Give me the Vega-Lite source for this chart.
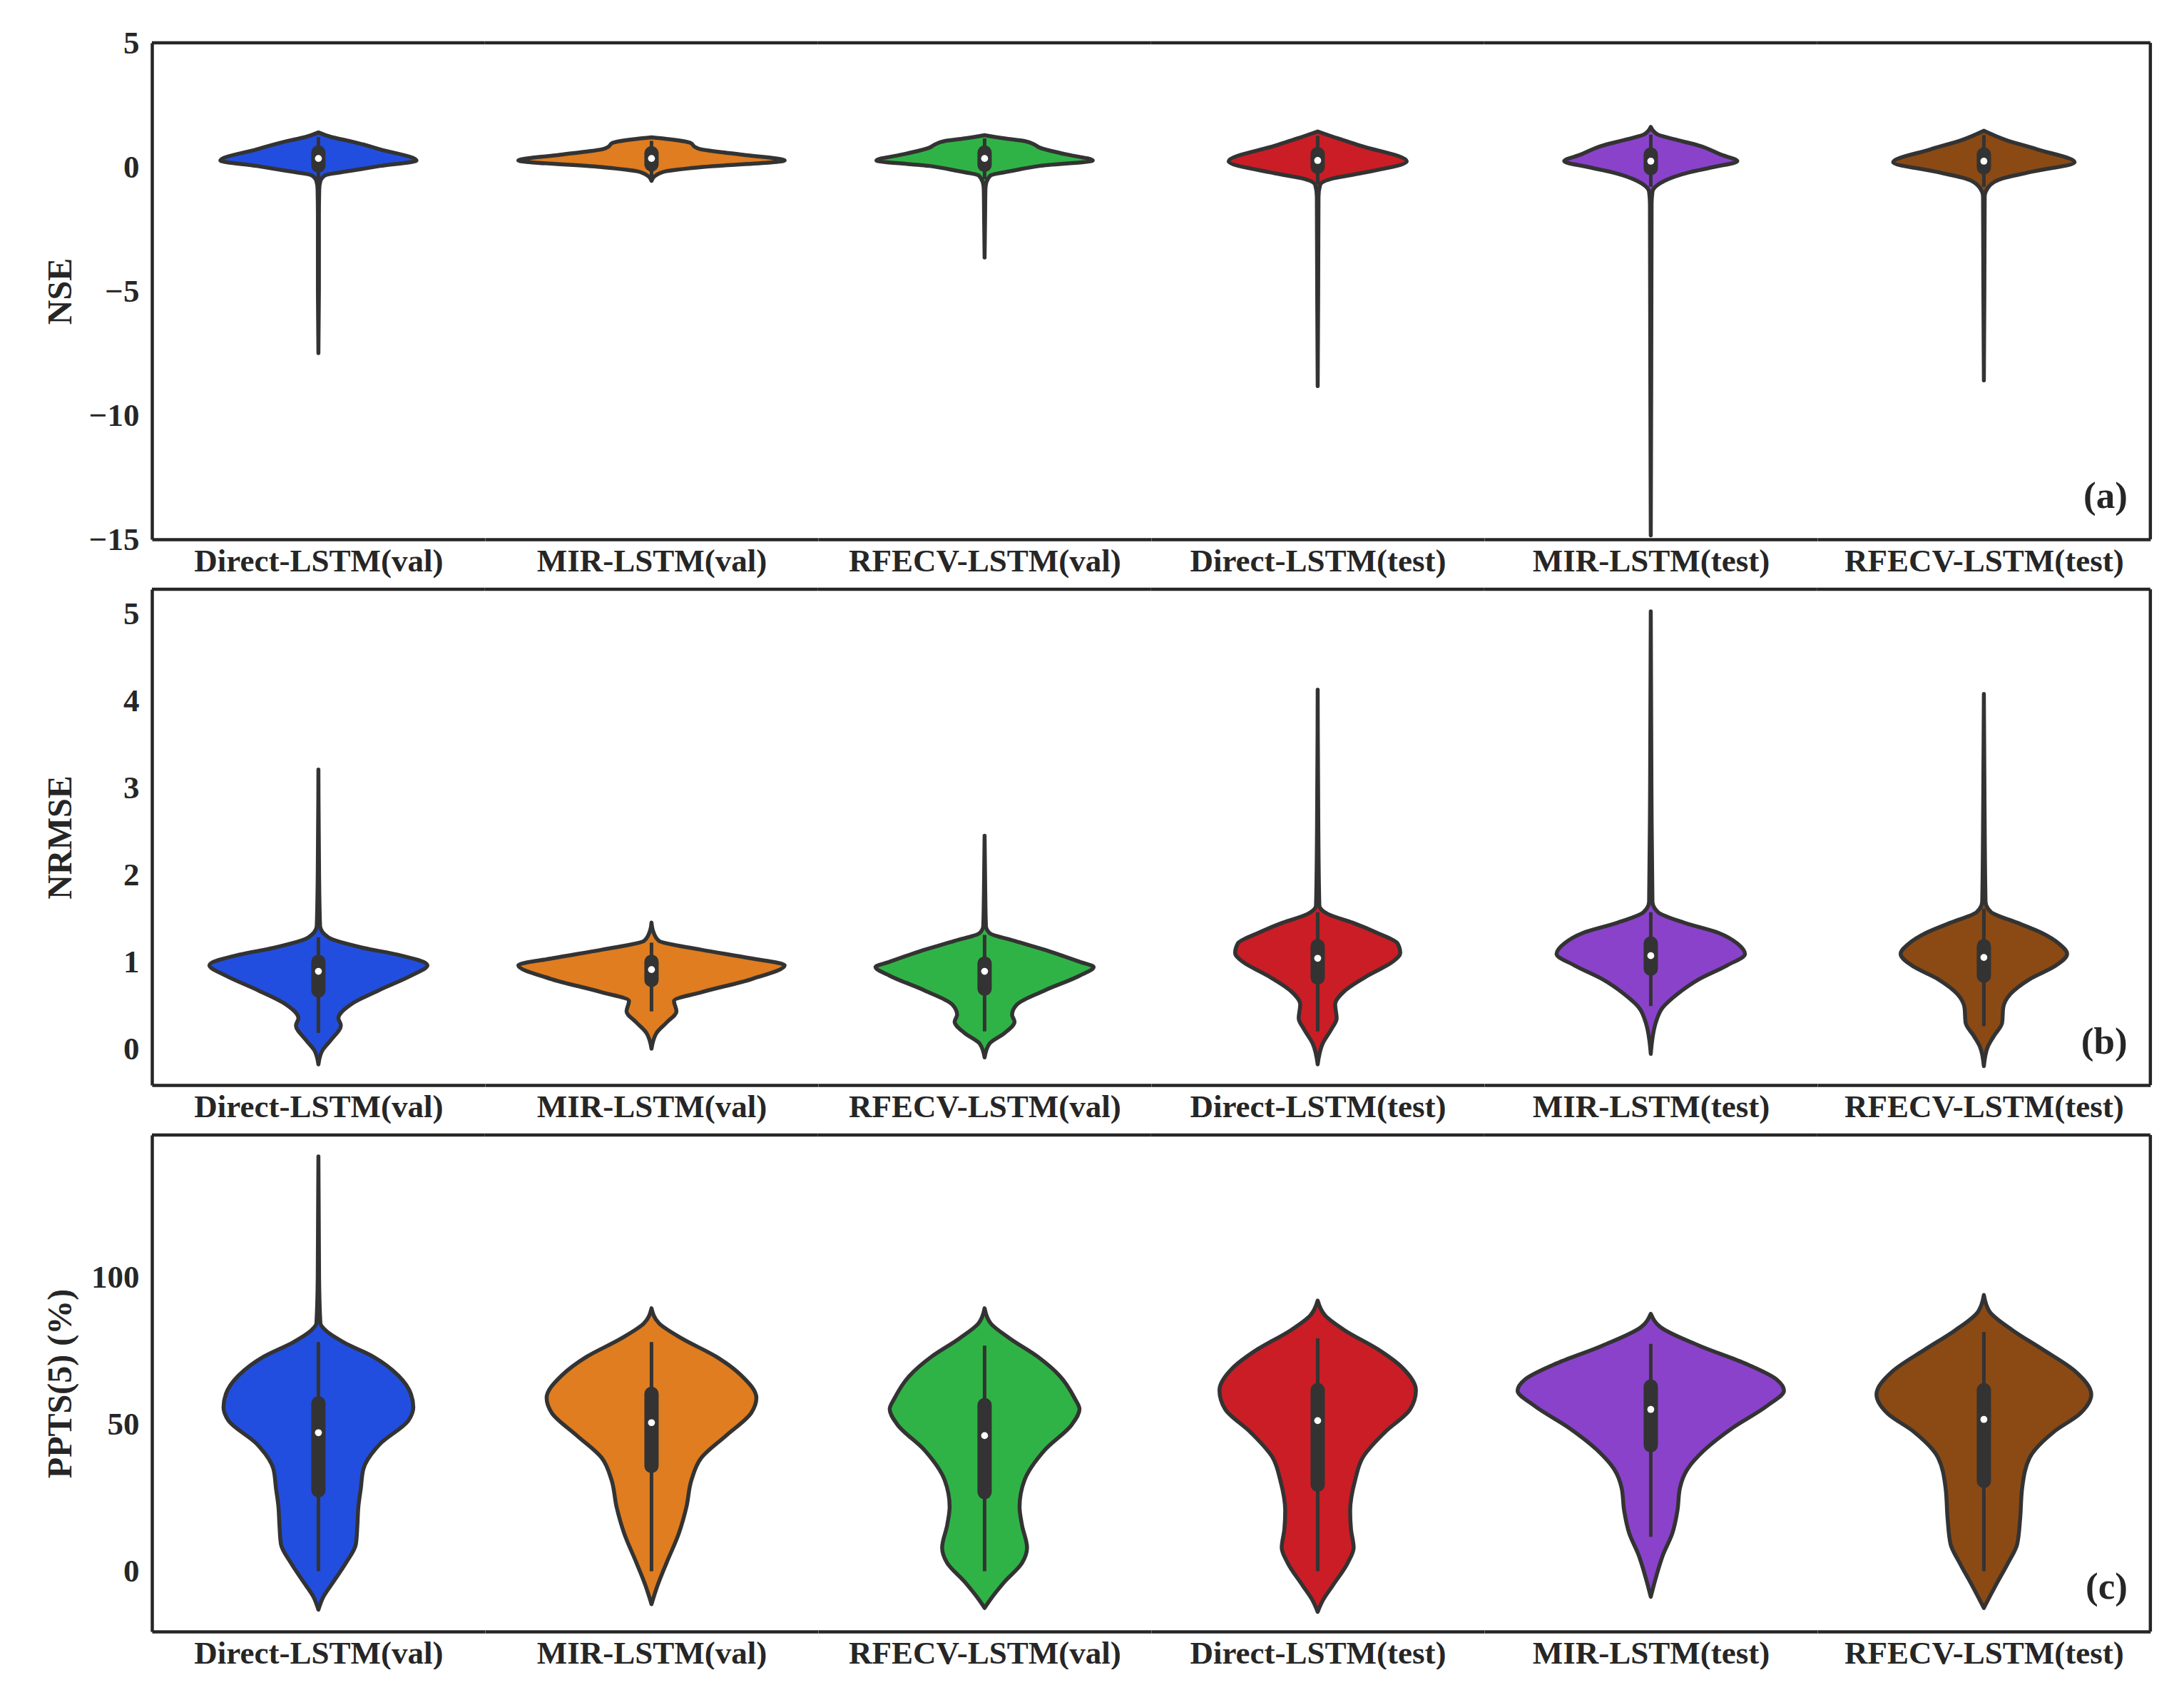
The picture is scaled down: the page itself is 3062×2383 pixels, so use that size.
{
  "$schema": "https://vega.github.io/schema/vega-lite/v6.json",
  "padding": {"left": 61, "top": 38, "right": 0, "bottom": 0},
  "background": "white",
  "spacing": 14,
  "config": {
    "view": {"stroke": null},
    "axis": {
      "labelFont": "Liberation Serif", "labelFontSize": 45, "labelFontWeight": "bold", "labelColor": "#262626",
      "ticks": false, "domainColor": "#262626", "domainWidth": 4.5, "grid": false,
      "titleFont": "Liberation Serif", "titleFontWeight": "bold", "titleColor": "#262626"
    },
    "axisY": {"labelPadding": 18, "titleFontSize": 48, "titleX": -128, "titleBaseline": "middle", "titleAngle": 270},
    "axisX": {"labels": false, "titleFontSize": 45, "titlePadding": 8}
  },
  "datasets": {
    "a": [
      {"c": "Direct-LSTM(val)", "v": -7.5, "w": 0}, {"c": "Direct-LSTM(val)", "v": -5.0, "w": 0.003}, {"c": "Direct-LSTM(val)", "v": -2.0, "w": 0.003}, {"c": "Direct-LSTM(val)", "v": -0.9, "w": 0.005}, {"c": "Direct-LSTM(val)", "v": -0.57, "w": 0.012}, {"c": "Direct-LSTM(val)", "v": -0.34, "w": 0.04}, {"c": "Direct-LSTM(val)", "v": -0.16, "w": 0.19}, {"c": "Direct-LSTM(val)", "v": 0.04, "w": 0.37}, {"c": "Direct-LSTM(val)", "v": 0.26, "w": 0.589}, {"c": "Direct-LSTM(val)", "v": 0.71, "w": 0.37}, {"c": "Direct-LSTM(val)", "v": 1.04, "w": 0.19}, {"c": "Direct-LSTM(val)", "v": 1.2, "w": 0.08}, {"c": "Direct-LSTM(val)", "v": 1.39, "w": 0},
      {"c": "MIR-LSTM(val)", "v": -0.56, "w": 0}, {"c": "MIR-LSTM(val)", "v": -0.37, "w": 0.02}, {"c": "MIR-LSTM(val)", "v": -0.17, "w": 0.09}, {"c": "MIR-LSTM(val)", "v": 0.0, "w": 0.31}, {"c": "MIR-LSTM(val)", "v": 0.26, "w": 0.8}, {"c": "MIR-LSTM(val)", "v": 0.49, "w": 0.55}, {"c": "MIR-LSTM(val)", "v": 0.72, "w": 0.29}, {"c": "MIR-LSTM(val)", "v": 0.8, "w": 0.262}, {"c": "MIR-LSTM(val)", "v": 0.97, "w": 0.234}, {"c": "MIR-LSTM(val)", "v": 1.13, "w": 0.09}, {"c": "MIR-LSTM(val)", "v": 1.19, "w": 0},
      {"c": "RFECV-LSTM(val)", "v": -3.65, "w": 0}, {"c": "RFECV-LSTM(val)", "v": -2.0, "w": 0.003}, {"c": "RFECV-LSTM(val)", "v": -0.9, "w": 0.005}, {"c": "RFECV-LSTM(val)", "v": -0.64, "w": 0.01}, {"c": "RFECV-LSTM(val)", "v": -0.34, "w": 0.036}, {"c": "RFECV-LSTM(val)", "v": -0.16, "w": 0.165}, {"c": "RFECV-LSTM(val)", "v": 0.04, "w": 0.33}, {"c": "RFECV-LSTM(val)", "v": 0.26, "w": 0.65}, {"c": "RFECV-LSTM(val)", "v": 0.52, "w": 0.48}, {"c": "RFECV-LSTM(val)", "v": 0.78, "w": 0.33}, {"c": "RFECV-LSTM(val)", "v": 0.9, "w": 0.3}, {"c": "RFECV-LSTM(val)", "v": 1.04, "w": 0.24}, {"c": "RFECV-LSTM(val)", "v": 1.15, "w": 0.12}, {"c": "RFECV-LSTM(val)", "v": 1.28, "w": 0},
      {"c": "Direct-LSTM(test)", "v": -8.83, "w": 0}, {"c": "Direct-LSTM(test)", "v": -5.0, "w": 0.003}, {"c": "Direct-LSTM(test)", "v": -1.2, "w": 0.005}, {"c": "Direct-LSTM(test)", "v": -0.72, "w": 0.015}, {"c": "Direct-LSTM(test)", "v": -0.49, "w": 0.075}, {"c": "Direct-LSTM(test)", "v": -0.26, "w": 0.255}, {"c": "Direct-LSTM(test)", "v": 0.23, "w": 0.535}, {"c": "Direct-LSTM(test)", "v": 0.86, "w": 0.255}, {"c": "Direct-LSTM(test)", "v": 1.15, "w": 0.12}, {"c": "Direct-LSTM(test)", "v": 1.43, "w": 0},
      {"c": "MIR-LSTM(test)", "v": -14.84, "w": 0}, {"c": "MIR-LSTM(test)", "v": -8.0, "w": 0.003}, {"c": "MIR-LSTM(test)", "v": -1.5, "w": 0.005}, {"c": "MIR-LSTM(test)", "v": -1.0, "w": 0.01}, {"c": "MIR-LSTM(test)", "v": -0.64, "w": 0.06}, {"c": "MIR-LSTM(test)", "v": -0.22, "w": 0.23}, {"c": "MIR-LSTM(test)", "v": 0.0, "w": 0.38}, {"c": "MIR-LSTM(test)", "v": 0.23, "w": 0.52}, {"c": "MIR-LSTM(test)", "v": 0.5, "w": 0.42}, {"c": "MIR-LSTM(test)", "v": 0.86, "w": 0.29}, {"c": "MIR-LSTM(test)", "v": 1.1, "w": 0.15}, {"c": "MIR-LSTM(test)", "v": 1.31, "w": 0.04}, {"c": "MIR-LSTM(test)", "v": 1.61, "w": 0},
      {"c": "RFECV-LSTM(test)", "v": -8.6, "w": 0}, {"c": "RFECV-LSTM(test)", "v": -5.0, "w": 0.003}, {"c": "RFECV-LSTM(test)", "v": -1.2, "w": 0.005}, {"c": "RFECV-LSTM(test)", "v": -0.79, "w": 0.03}, {"c": "RFECV-LSTM(test)", "v": -0.49, "w": 0.1}, {"c": "RFECV-LSTM(test)", "v": -0.19, "w": 0.29}, {"c": "RFECV-LSTM(test)", "v": 0.19, "w": 0.545}, {"c": "RFECV-LSTM(test)", "v": 0.71, "w": 0.32}, {"c": "RFECV-LSTM(test)", "v": 1.09, "w": 0.13}, {"c": "RFECV-LSTM(test)", "v": 1.46, "w": 0},
      {"c": "Direct-LSTM(val)", "med": 0.34, "q1": 0.05, "q3": 0.58, "lo": -0.55, "hi": 1.2},
      {"c": "MIR-LSTM(val)", "med": 0.34, "q1": 0.1, "q3": 0.55, "lo": -0.5, "hi": 1.05},
      {"c": "RFECV-LSTM(val)", "med": 0.34, "q1": 0.08, "q3": 0.58, "lo": -0.5, "hi": 1.15},
      {"c": "Direct-LSTM(test)", "med": 0.26, "q1": 0.0, "q3": 0.52, "lo": -0.7, "hi": 1.25},
      {"c": "MIR-LSTM(test)", "med": 0.23, "q1": -0.05, "q3": 0.5, "lo": -0.8, "hi": 1.3},
      {"c": "RFECV-LSTM(test)", "med": 0.23, "q1": -0.02, "q3": 0.5, "lo": -0.8, "hi": 1.28}
    ],
    "b": [
      {"c": "Direct-LSTM(val)", "v": -0.18, "w": 0}, {"c": "Direct-LSTM(val)", "v": -0.02, "w": 0.024}, {"c": "Direct-LSTM(val)", "v": 0.1, "w": 0.075}, {"c": "Direct-LSTM(val)", "v": 0.27, "w": 0.135}, {"c": "Direct-LSTM(val)", "v": 0.35, "w": 0.12}, {"c": "Direct-LSTM(val)", "v": 0.51, "w": 0.195}, {"c": "Direct-LSTM(val)", "v": 0.67, "w": 0.36}, {"c": "Direct-LSTM(val)", "v": 0.84, "w": 0.556}, {"c": "Direct-LSTM(val)", "v": 0.96, "w": 0.655}, {"c": "Direct-LSTM(val)", "v": 1.08, "w": 0.48}, {"c": "Direct-LSTM(val)", "v": 1.16, "w": 0.27}, {"c": "Direct-LSTM(val)", "v": 1.28, "w": 0.06}, {"c": "Direct-LSTM(val)", "v": 1.41, "w": 0.01}, {"c": "Direct-LSTM(val)", "v": 2.0, "w": 0.004}, {"c": "Direct-LSTM(val)", "v": 3.21, "w": 0},
      {"c": "MIR-LSTM(val)", "v": 0.0, "w": 0}, {"c": "MIR-LSTM(val)", "v": 0.18, "w": 0.03}, {"c": "MIR-LSTM(val)", "v": 0.3, "w": 0.09}, {"c": "MIR-LSTM(val)", "v": 0.43, "w": 0.15}, {"c": "MIR-LSTM(val)", "v": 0.55, "w": 0.135}, {"c": "MIR-LSTM(val)", "v": 0.65, "w": 0.3}, {"c": "MIR-LSTM(val)", "v": 0.8, "w": 0.6}, {"c": "MIR-LSTM(val)", "v": 0.96, "w": 0.8}, {"c": "MIR-LSTM(val)", "v": 1.04, "w": 0.595}, {"c": "MIR-LSTM(val)", "v": 1.14, "w": 0.295}, {"c": "MIR-LSTM(val)", "v": 1.24, "w": 0.045}, {"c": "MIR-LSTM(val)", "v": 1.35, "w": 0.01}, {"c": "MIR-LSTM(val)", "v": 1.45, "w": 0},
      {"c": "RFECV-LSTM(val)", "v": -0.1, "w": 0}, {"c": "RFECV-LSTM(val)", "v": 0.06, "w": 0.03}, {"c": "RFECV-LSTM(val)", "v": 0.18, "w": 0.12}, {"c": "RFECV-LSTM(val)", "v": 0.31, "w": 0.18}, {"c": "RFECV-LSTM(val)", "v": 0.39, "w": 0.165}, {"c": "RFECV-LSTM(val)", "v": 0.51, "w": 0.195}, {"c": "RFECV-LSTM(val)", "v": 0.67, "w": 0.36}, {"c": "RFECV-LSTM(val)", "v": 0.84, "w": 0.57}, {"c": "RFECV-LSTM(val)", "v": 0.94, "w": 0.655}, {"c": "RFECV-LSTM(val)", "v": 1.0, "w": 0.57}, {"c": "RFECV-LSTM(val)", "v": 1.12, "w": 0.39}, {"c": "RFECV-LSTM(val)", "v": 1.24, "w": 0.18}, {"c": "RFECV-LSTM(val)", "v": 1.33, "w": 0.03}, {"c": "RFECV-LSTM(val)", "v": 1.41, "w": 0.008}, {"c": "RFECV-LSTM(val)", "v": 1.8, "w": 0.004}, {"c": "RFECV-LSTM(val)", "v": 2.45, "w": 0},
      {"c": "Direct-LSTM(test)", "v": -0.18, "w": 0}, {"c": "Direct-LSTM(test)", "v": 0.06, "w": 0.03}, {"c": "Direct-LSTM(test)", "v": 0.23, "w": 0.084}, {"c": "Direct-LSTM(test)", "v": 0.35, "w": 0.114}, {"c": "Direct-LSTM(test)", "v": 0.51, "w": 0.105}, {"c": "Direct-LSTM(test)", "v": 0.67, "w": 0.165}, {"c": "Direct-LSTM(test)", "v": 0.84, "w": 0.3}, {"c": "Direct-LSTM(test)", "v": 1.0, "w": 0.45}, {"c": "Direct-LSTM(test)", "v": 1.1, "w": 0.496}, {"c": "Direct-LSTM(test)", "v": 1.21, "w": 0.48}, {"c": "Direct-LSTM(test)", "v": 1.33, "w": 0.36}, {"c": "Direct-LSTM(test)", "v": 1.45, "w": 0.21}, {"c": "Direct-LSTM(test)", "v": 1.55, "w": 0.06}, {"c": "Direct-LSTM(test)", "v": 1.65, "w": 0.01}, {"c": "Direct-LSTM(test)", "v": 2.5, "w": 0.004}, {"c": "Direct-LSTM(test)", "v": 4.13, "w": 0},
      {"c": "MIR-LSTM(test)", "v": -0.06, "w": 0}, {"c": "MIR-LSTM(test)", "v": 0.3, "w": 0.03}, {"c": "MIR-LSTM(test)", "v": 0.47, "w": 0.07}, {"c": "MIR-LSTM(test)", "v": 0.63, "w": 0.16}, {"c": "MIR-LSTM(test)", "v": 0.8, "w": 0.29}, {"c": "MIR-LSTM(test)", "v": 0.96, "w": 0.46}, {"c": "MIR-LSTM(test)", "v": 1.09, "w": 0.566}, {"c": "MIR-LSTM(test)", "v": 1.21, "w": 0.52}, {"c": "MIR-LSTM(test)", "v": 1.33, "w": 0.41}, {"c": "MIR-LSTM(test)", "v": 1.45, "w": 0.2}, {"c": "MIR-LSTM(test)", "v": 1.57, "w": 0.044}, {"c": "MIR-LSTM(test)", "v": 1.69, "w": 0.01}, {"c": "MIR-LSTM(test)", "v": 3.0, "w": 0.004}, {"c": "MIR-LSTM(test)", "v": 5.03, "w": 0},
      {"c": "RFECV-LSTM(test)", "v": -0.2, "w": 0}, {"c": "RFECV-LSTM(test)", "v": 0.02, "w": 0.023}, {"c": "RFECV-LSTM(test)", "v": 0.14, "w": 0.058}, {"c": "RFECV-LSTM(test)", "v": 0.3, "w": 0.11}, {"c": "RFECV-LSTM(test)", "v": 0.47, "w": 0.116}, {"c": "RFECV-LSTM(test)", "v": 0.63, "w": 0.16}, {"c": "RFECV-LSTM(test)", "v": 0.8, "w": 0.275}, {"c": "RFECV-LSTM(test)", "v": 0.96, "w": 0.435}, {"c": "RFECV-LSTM(test)", "v": 1.09, "w": 0.5}, {"c": "RFECV-LSTM(test)", "v": 1.21, "w": 0.45}, {"c": "RFECV-LSTM(test)", "v": 1.33, "w": 0.35}, {"c": "RFECV-LSTM(test)", "v": 1.45, "w": 0.2}, {"c": "RFECV-LSTM(test)", "v": 1.57, "w": 0.044}, {"c": "RFECV-LSTM(test)", "v": 1.69, "w": 0.01}, {"c": "RFECV-LSTM(test)", "v": 2.8, "w": 0.004}, {"c": "RFECV-LSTM(test)", "v": 4.08, "w": 0},
      {"c": "Direct-LSTM(val)", "med": 0.89, "q1": 0.67, "q3": 1.0, "lo": 0.18, "hi": 1.28},
      {"c": "MIR-LSTM(val)", "med": 0.91, "q1": 0.79, "q3": 1.0, "lo": 0.43, "hi": 1.22},
      {"c": "RFECV-LSTM(val)", "med": 0.89, "q1": 0.69, "q3": 0.98, "lo": 0.2, "hi": 1.31},
      {"c": "Direct-LSTM(test)", "med": 1.04, "q1": 0.82, "q3": 1.18, "lo": 0.2, "hi": 1.57},
      {"c": "MIR-LSTM(test)", "med": 1.07, "q1": 0.92, "q3": 1.21, "lo": 0.49, "hi": 1.57},
      {"c": "RFECV-LSTM(test)", "med": 1.05, "q1": 0.84, "q3": 1.18, "lo": 0.26, "hi": 1.61}
    ],
    "c": [
      {"c": "Direct-LSTM(val)", "v": -13.1, "w": 0}, {"c": "Direct-LSTM(val)", "v": -8.7, "w": 0.03}, {"c": "Direct-LSTM(val)", "v": -3.6, "w": 0.09}, {"c": "Direct-LSTM(val)", "v": 2.8, "w": 0.165}, {"c": "Direct-LSTM(val)", "v": 9.2, "w": 0.225}, {"c": "Direct-LSTM(val)", "v": 15.6, "w": 0.234}, {"c": "Direct-LSTM(val)", "v": 21.9, "w": 0.24}, {"c": "Direct-LSTM(val)", "v": 28.3, "w": 0.255}, {"c": "Direct-LSTM(val)", "v": 34.7, "w": 0.27}, {"c": "Direct-LSTM(val)", "v": 43.6, "w": 0.376}, {"c": "Direct-LSTM(val)", "v": 51.2, "w": 0.54}, {"c": "Direct-LSTM(val)", "v": 55.7, "w": 0.57}, {"c": "Direct-LSTM(val)", "v": 60.2, "w": 0.556}, {"c": "Direct-LSTM(val)", "v": 66.5, "w": 0.48}, {"c": "Direct-LSTM(val)", "v": 72.9, "w": 0.33}, {"c": "Direct-LSTM(val)", "v": 77.9, "w": 0.15}, {"c": "Direct-LSTM(val)", "v": 81.8, "w": 0.045}, {"c": "Direct-LSTM(val)", "v": 84.3, "w": 0.012}, {"c": "Direct-LSTM(val)", "v": 100, "w": 0.004}, {"c": "Direct-LSTM(val)", "v": 141, "w": 0},
      {"c": "MIR-LSTM(val)", "v": -11.2, "w": 0}, {"c": "MIR-LSTM(val)", "v": -4.9, "w": 0.036}, {"c": "MIR-LSTM(val)", "v": 2.8, "w": 0.09}, {"c": "MIR-LSTM(val)", "v": 13.0, "w": 0.165}, {"c": "MIR-LSTM(val)", "v": 21.9, "w": 0.21}, {"c": "MIR-LSTM(val)", "v": 31.0, "w": 0.24}, {"c": "MIR-LSTM(val)", "v": 38.6, "w": 0.3}, {"c": "MIR-LSTM(val)", "v": 46.2, "w": 0.45}, {"c": "MIR-LSTM(val)", "v": 53.9, "w": 0.6}, {"c": "MIR-LSTM(val)", "v": 58.9, "w": 0.63}, {"c": "MIR-LSTM(val)", "v": 66.5, "w": 0.54}, {"c": "MIR-LSTM(val)", "v": 72.9, "w": 0.39}, {"c": "MIR-LSTM(val)", "v": 79.2, "w": 0.18}, {"c": "MIR-LSTM(val)", "v": 84.3, "w": 0.045}, {"c": "MIR-LSTM(val)", "v": 89.4, "w": 0},
      {"c": "RFECV-LSTM(val)", "v": -12.5, "w": 0}, {"c": "RFECV-LSTM(val)", "v": -10.0, "w": 0.03}, {"c": "RFECV-LSTM(val)", "v": -3.6, "w": 0.12}, {"c": "RFECV-LSTM(val)", "v": 2.8, "w": 0.225}, {"c": "RFECV-LSTM(val)", "v": 8.0, "w": 0.255}, {"c": "RFECV-LSTM(val)", "v": 15.6, "w": 0.225}, {"c": "RFECV-LSTM(val)", "v": 21.9, "w": 0.21}, {"c": "RFECV-LSTM(val)", "v": 31.0, "w": 0.24}, {"c": "RFECV-LSTM(val)", "v": 41.1, "w": 0.36}, {"c": "RFECV-LSTM(val)", "v": 50.0, "w": 0.526}, {"c": "RFECV-LSTM(val)", "v": 55.1, "w": 0.57}, {"c": "RFECV-LSTM(val)", "v": 58.9, "w": 0.54}, {"c": "RFECV-LSTM(val)", "v": 66.5, "w": 0.45}, {"c": "RFECV-LSTM(val)", "v": 72.9, "w": 0.32}, {"c": "RFECV-LSTM(val)", "v": 79.2, "w": 0.15}, {"c": "RFECV-LSTM(val)", "v": 84.3, "w": 0.036}, {"c": "RFECV-LSTM(val)", "v": 89.4, "w": 0},
      {"c": "Direct-LSTM(test)", "v": -13.8, "w": 0}, {"c": "Direct-LSTM(test)", "v": -10.0, "w": 0.03}, {"c": "Direct-LSTM(test)", "v": -4.9, "w": 0.09}, {"c": "Direct-LSTM(test)", "v": 2.8, "w": 0.18}, {"c": "Direct-LSTM(test)", "v": 8.0, "w": 0.216}, {"c": "Direct-LSTM(test)", "v": 14.3, "w": 0.2}, {"c": "Direct-LSTM(test)", "v": 20.6, "w": 0.195}, {"c": "Direct-LSTM(test)", "v": 31.0, "w": 0.225}, {"c": "Direct-LSTM(test)", "v": 38.6, "w": 0.27}, {"c": "Direct-LSTM(test)", "v": 47.4, "w": 0.406}, {"c": "Direct-LSTM(test)", "v": 55.1, "w": 0.556}, {"c": "Direct-LSTM(test)", "v": 61.5, "w": 0.59}, {"c": "Direct-LSTM(test)", "v": 69.1, "w": 0.51}, {"c": "Direct-LSTM(test)", "v": 75.5, "w": 0.36}, {"c": "Direct-LSTM(test)", "v": 81.8, "w": 0.165}, {"c": "Direct-LSTM(test)", "v": 86.9, "w": 0.045}, {"c": "Direct-LSTM(test)", "v": 92.0, "w": 0},
      {"c": "MIR-LSTM(test)", "v": -8.7, "w": 0}, {"c": "MIR-LSTM(test)", "v": -2.3, "w": 0.03}, {"c": "MIR-LSTM(test)", "v": 5.5, "w": 0.073}, {"c": "MIR-LSTM(test)", "v": 13.0, "w": 0.13}, {"c": "MIR-LSTM(test)", "v": 20.6, "w": 0.16}, {"c": "MIR-LSTM(test)", "v": 28.3, "w": 0.175}, {"c": "MIR-LSTM(test)", "v": 34.7, "w": 0.22}, {"c": "MIR-LSTM(test)", "v": 41.1, "w": 0.32}, {"c": "MIR-LSTM(test)", "v": 48.7, "w": 0.49}, {"c": "MIR-LSTM(test)", "v": 56.3, "w": 0.7}, {"c": "MIR-LSTM(test)", "v": 61.4, "w": 0.8}, {"c": "MIR-LSTM(test)", "v": 65.2, "w": 0.755}, {"c": "MIR-LSTM(test)", "v": 70.3, "w": 0.58}, {"c": "MIR-LSTM(test)", "v": 76.7, "w": 0.29}, {"c": "MIR-LSTM(test)", "v": 83.0, "w": 0.058}, {"c": "MIR-LSTM(test)", "v": 87.5, "w": 0},
      {"c": "RFECV-LSTM(test)", "v": -12.5, "w": 0}, {"c": "RFECV-LSTM(test)", "v": -4.9, "w": 0.07}, {"c": "RFECV-LSTM(test)", "v": 2.8, "w": 0.145}, {"c": "RFECV-LSTM(test)", "v": 9.2, "w": 0.2}, {"c": "RFECV-LSTM(test)", "v": 18.0, "w": 0.218}, {"c": "RFECV-LSTM(test)", "v": 28.3, "w": 0.23}, {"c": "RFECV-LSTM(test)", "v": 38.6, "w": 0.275}, {"c": "RFECV-LSTM(test)", "v": 47.4, "w": 0.42}, {"c": "RFECV-LSTM(test)", "v": 53.7, "w": 0.58}, {"c": "RFECV-LSTM(test)", "v": 60.1, "w": 0.645}, {"c": "RFECV-LSTM(test)", "v": 67.9, "w": 0.55}, {"c": "RFECV-LSTM(test)", "v": 75.5, "w": 0.35}, {"c": "RFECV-LSTM(test)", "v": 81.8, "w": 0.175}, {"c": "RFECV-LSTM(test)", "v": 88.2, "w": 0.035}, {"c": "RFECV-LSTM(test)", "v": 93.9, "w": 0},
      {"c": "Direct-LSTM(val)", "med": 47.1, "q1": 27.5, "q3": 57.1, "lo": 0, "hi": 77.9},
      {"c": "MIR-LSTM(val)", "med": 50.5, "q1": 35.8, "q3": 60.3, "lo": 0, "hi": 77.9},
      {"c": "RFECV-LSTM(val)", "med": 46.1, "q1": 26.9, "q3": 56.5, "lo": 0, "hi": 76.7},
      {"c": "Direct-LSTM(test)", "med": 51.2, "q1": 29.4, "q3": 61.6, "lo": 0, "hi": 79.2},
      {"c": "MIR-LSTM(test)", "med": 55.0, "q1": 42.8, "q3": 62.8, "lo": 11.7, "hi": 77.3},
      {"c": "RFECV-LSTM(test)", "med": 51.6, "q1": 30.7, "q3": 61.6, "lo": 0, "hi": 81.3}
    ]
  },
  "vconcat": [
    {"data": {"name": "a"}, "spacing": 0, "bounds": "flush", "hconcat": [
      {"width": 466.83, "height": 696, "transform": [{"filter": "datum.c == 'Direct-LSTM(val)'"}], "layer": [
        {"transform": [{"filter": "isValid(datum.w)"}], "mark": {"type": "area", "orient": "horizontal", "interpolate": "monotone", "fill": "#224edf", "stroke": "#333333", "strokeWidth": 5.5, "strokeJoin": "round"},
         "encoding": {"y": {"field": "v", "type": "quantitative", "scale": {"domain": [-15, 5], "nice": false, "zero": false}, "axis": {"title": "NSE", "values": [-15, -10, -5, 0, 5], "titleY": 348}},
           "x": {"field": "w", "type": "quantitative", "stack": "center", "scale": {"domain": [-0.2055, 0.7945], "nice": false, "zero": false}, "axis": {"title": "Direct-LSTM(val)"}}, "detail": {"field": "c", "type": "nominal"}}},
        {"transform": [{"filter": "isValid(datum.med)"}], "mark": {"type": "rule", "color": "#333333", "strokeWidth": 5}, "encoding": {"x": {"datum": 0.2945, "type": "quantitative"}, "y": {"field": "lo", "type": "quantitative"}, "y2": {"field": "hi"}}},
        {"transform": [{"filter": "isValid(datum.med)"}], "mark": {"type": "rule", "color": "#333333", "strokeWidth": 20, "strokeCap": "round"}, "encoding": {"x": {"datum": 0.2945, "type": "quantitative"}, "y": {"field": "q1", "type": "quantitative"}, "y2": {"field": "q3"}}},
        {"transform": [{"filter": "isValid(datum.med)"}], "mark": {"type": "point", "filled": true, "color": "white", "opacity": 1, "size": 95, "strokeWidth": 0}, "encoding": {"x": {"datum": 0.2945, "type": "quantitative"}, "y": {"field": "med", "type": "quantitative"}}},
        {"transform": [{"filter": "isValid(datum.med)"}], "mark": {"type": "rule", "color": "#262626", "strokeWidth": 4.5}, "encoding": {"y": {"datum": 5, "type": "quantitative"}}}
      ]},
      {"width": 466.83, "height": 696, "transform": [{"filter": "datum.c == 'MIR-LSTM(val)'"}], "layer": [
        {"transform": [{"filter": "isValid(datum.w)"}], "mark": {"type": "area", "orient": "horizontal", "interpolate": "monotone", "fill": "#df7d20", "stroke": "#333333", "strokeWidth": 5.5, "strokeJoin": "round"},
         "encoding": {"y": {"field": "v", "type": "quantitative", "scale": {"domain": [-15, 5], "nice": false, "zero": false}, "axis": null},
           "x": {"field": "w", "type": "quantitative", "stack": "center", "scale": {"domain": [-0.1, 0.9], "nice": false, "zero": false}, "axis": {"title": "MIR-LSTM(val)"}}, "detail": {"field": "c", "type": "nominal"}}},
        {"transform": [{"filter": "isValid(datum.med)"}], "mark": {"type": "rule", "color": "#333333", "strokeWidth": 5}, "encoding": {"x": {"datum": 0.4, "type": "quantitative"}, "y": {"field": "lo", "type": "quantitative", "axis": null}, "y2": {"field": "hi"}}},
        {"transform": [{"filter": "isValid(datum.med)"}], "mark": {"type": "rule", "color": "#333333", "strokeWidth": 20, "strokeCap": "round"}, "encoding": {"x": {"datum": 0.4, "type": "quantitative"}, "y": {"field": "q1", "type": "quantitative", "axis": null}, "y2": {"field": "q3"}}},
        {"transform": [{"filter": "isValid(datum.med)"}], "mark": {"type": "point", "filled": true, "color": "white", "opacity": 1, "size": 95, "strokeWidth": 0}, "encoding": {"x": {"datum": 0.4, "type": "quantitative"}, "y": {"field": "med", "type": "quantitative", "axis": null}}},
        {"transform": [{"filter": "isValid(datum.med)"}], "mark": {"type": "rule", "color": "#262626", "strokeWidth": 4.5}, "encoding": {"y": {"datum": 5, "type": "quantitative", "axis": null}}}
      ]},
      {"width": 466.83, "height": 696, "transform": [{"filter": "datum.c == 'RFECV-LSTM(val)'"}], "layer": [
        {"transform": [{"filter": "isValid(datum.w)"}], "mark": {"type": "area", "orient": "horizontal", "interpolate": "monotone", "fill": "#30b346", "stroke": "#333333", "strokeWidth": 5.5, "strokeJoin": "round"},
         "encoding": {"y": {"field": "v", "type": "quantitative", "scale": {"domain": [-15, 5], "nice": false, "zero": false}, "axis": null},
           "x": {"field": "w", "type": "quantitative", "stack": "center", "scale": {"domain": [-0.175, 0.825], "nice": false, "zero": false}, "axis": {"title": "RFECV-LSTM(val)"}}, "detail": {"field": "c", "type": "nominal"}}},
        {"transform": [{"filter": "isValid(datum.med)"}], "mark": {"type": "rule", "color": "#333333", "strokeWidth": 5}, "encoding": {"x": {"datum": 0.325, "type": "quantitative"}, "y": {"field": "lo", "type": "quantitative", "axis": null}, "y2": {"field": "hi"}}},
        {"transform": [{"filter": "isValid(datum.med)"}], "mark": {"type": "rule", "color": "#333333", "strokeWidth": 20, "strokeCap": "round"}, "encoding": {"x": {"datum": 0.325, "type": "quantitative"}, "y": {"field": "q1", "type": "quantitative", "axis": null}, "y2": {"field": "q3"}}},
        {"transform": [{"filter": "isValid(datum.med)"}], "mark": {"type": "point", "filled": true, "color": "white", "opacity": 1, "size": 95, "strokeWidth": 0}, "encoding": {"x": {"datum": 0.325, "type": "quantitative"}, "y": {"field": "med", "type": "quantitative", "axis": null}}},
        {"transform": [{"filter": "isValid(datum.med)"}], "mark": {"type": "rule", "color": "#262626", "strokeWidth": 4.5}, "encoding": {"y": {"datum": 5, "type": "quantitative", "axis": null}}}
      ]},
      {"width": 466.83, "height": 696, "transform": [{"filter": "datum.c == 'Direct-LSTM(test)'"}], "layer": [
        {"transform": [{"filter": "isValid(datum.w)"}], "mark": {"type": "area", "orient": "horizontal", "interpolate": "monotone", "fill": "#cb1d25", "stroke": "#333333", "strokeWidth": 5.5, "strokeJoin": "round"},
         "encoding": {"y": {"field": "v", "type": "quantitative", "scale": {"domain": [-15, 5], "nice": false, "zero": false}, "axis": null},
           "x": {"field": "w", "type": "quantitative", "stack": "center", "scale": {"domain": [-0.2325, 0.7675], "nice": false, "zero": false}, "axis": {"title": "Direct-LSTM(test)"}}, "detail": {"field": "c", "type": "nominal"}}},
        {"transform": [{"filter": "isValid(datum.med)"}], "mark": {"type": "rule", "color": "#333333", "strokeWidth": 5}, "encoding": {"x": {"datum": 0.2675, "type": "quantitative"}, "y": {"field": "lo", "type": "quantitative", "axis": null}, "y2": {"field": "hi"}}},
        {"transform": [{"filter": "isValid(datum.med)"}], "mark": {"type": "rule", "color": "#333333", "strokeWidth": 20, "strokeCap": "round"}, "encoding": {"x": {"datum": 0.2675, "type": "quantitative"}, "y": {"field": "q1", "type": "quantitative", "axis": null}, "y2": {"field": "q3"}}},
        {"transform": [{"filter": "isValid(datum.med)"}], "mark": {"type": "point", "filled": true, "color": "white", "opacity": 1, "size": 95, "strokeWidth": 0}, "encoding": {"x": {"datum": 0.2675, "type": "quantitative"}, "y": {"field": "med", "type": "quantitative", "axis": null}}},
        {"transform": [{"filter": "isValid(datum.med)"}], "mark": {"type": "rule", "color": "#262626", "strokeWidth": 4.5}, "encoding": {"y": {"datum": 5, "type": "quantitative", "axis": null}}}
      ]},
      {"width": 466.83, "height": 696, "transform": [{"filter": "datum.c == 'MIR-LSTM(test)'"}], "layer": [
        {"transform": [{"filter": "isValid(datum.w)"}], "mark": {"type": "area", "orient": "horizontal", "interpolate": "monotone", "fill": "#8a42cb", "stroke": "#333333", "strokeWidth": 5.5, "strokeJoin": "round"},
         "encoding": {"y": {"field": "v", "type": "quantitative", "scale": {"domain": [-15, 5], "nice": false, "zero": false}, "axis": null},
           "x": {"field": "w", "type": "quantitative", "stack": "center", "scale": {"domain": [-0.24, 0.76], "nice": false, "zero": false}, "axis": {"title": "MIR-LSTM(test)"}}, "detail": {"field": "c", "type": "nominal"}}},
        {"transform": [{"filter": "isValid(datum.med)"}], "mark": {"type": "rule", "color": "#333333", "strokeWidth": 5}, "encoding": {"x": {"datum": 0.26, "type": "quantitative"}, "y": {"field": "lo", "type": "quantitative", "axis": null}, "y2": {"field": "hi"}}},
        {"transform": [{"filter": "isValid(datum.med)"}], "mark": {"type": "rule", "color": "#333333", "strokeWidth": 20, "strokeCap": "round"}, "encoding": {"x": {"datum": 0.26, "type": "quantitative"}, "y": {"field": "q1", "type": "quantitative", "axis": null}, "y2": {"field": "q3"}}},
        {"transform": [{"filter": "isValid(datum.med)"}], "mark": {"type": "point", "filled": true, "color": "white", "opacity": 1, "size": 95, "strokeWidth": 0}, "encoding": {"x": {"datum": 0.26, "type": "quantitative"}, "y": {"field": "med", "type": "quantitative", "axis": null}}},
        {"transform": [{"filter": "isValid(datum.med)"}], "mark": {"type": "rule", "color": "#262626", "strokeWidth": 4.5}, "encoding": {"y": {"datum": 5, "type": "quantitative", "axis": null}}}
      ]},
      {"width": 466.83, "height": 696, "transform": [{"filter": "datum.c == 'RFECV-LSTM(test)'"}], "layer": [
        {"transform": [{"filter": "isValid(datum.w)"}], "mark": {"type": "area", "orient": "horizontal", "interpolate": "monotone", "fill": "#8b4a14", "stroke": "#333333", "strokeWidth": 5.5, "strokeJoin": "round"},
         "encoding": {"y": {"field": "v", "type": "quantitative", "scale": {"domain": [-15, 5], "nice": false, "zero": false}, "axis": null},
           "x": {"field": "w", "type": "quantitative", "stack": "center", "scale": {"domain": [-0.2275, 0.7725], "nice": false, "zero": false}, "axis": {"title": "RFECV-LSTM(test)"}}, "detail": {"field": "c", "type": "nominal"}}},
        {"transform": [{"filter": "isValid(datum.med)"}], "mark": {"type": "rule", "color": "#333333", "strokeWidth": 5}, "encoding": {"x": {"datum": 0.2725, "type": "quantitative"}, "y": {"field": "lo", "type": "quantitative", "axis": null}, "y2": {"field": "hi"}}},
        {"transform": [{"filter": "isValid(datum.med)"}], "mark": {"type": "rule", "color": "#333333", "strokeWidth": 20, "strokeCap": "round"}, "encoding": {"x": {"datum": 0.2725, "type": "quantitative"}, "y": {"field": "q1", "type": "quantitative", "axis": null}, "y2": {"field": "q3"}}},
        {"transform": [{"filter": "isValid(datum.med)"}], "mark": {"type": "point", "filled": true, "color": "white", "opacity": 1, "size": 95, "strokeWidth": 0}, "encoding": {"x": {"datum": 0.2725, "type": "quantitative"}, "y": {"field": "med", "type": "quantitative", "axis": null}}},
        {"transform": [{"filter": "isValid(datum.med)"}], "mark": {"type": "rule", "color": "#262626", "strokeWidth": 4.5}, "encoding": {"y": {"datum": 5, "type": "quantitative", "axis": null}}},
        {"transform": [{"filter": "isValid(datum.med)"}], "mark": {"type": "rule", "color": "#262626", "strokeWidth": 4.5}, "encoding": {"x": {"datum": 0.7725, "type": "quantitative"}}},
        {"transform": [{"filter": "isValid(datum.med)"}], "mark": {"type": "text", "text": "(a)", "font": "Liberation Serif", "fontWeight": "bold", "fontSize": 53, "color": "#262626", "align": "right", "baseline": "alphabetic"}, "encoding": {"x": {"datum": 0.7039, "type": "quantitative"}, "y": {"datum": -13.74, "type": "quantitative", "axis": null}}}
      ]}
    ]},
    {"data": {"name": "b"}, "spacing": 0, "bounds": "flush", "hconcat": [
      {"width": 466.83, "height": 695, "transform": [{"filter": "datum.c == 'Direct-LSTM(val)'"}], "layer": [
        {"transform": [{"filter": "isValid(datum.w)"}], "mark": {"type": "area", "orient": "horizontal", "interpolate": "monotone", "fill": "#224edf", "stroke": "#333333", "strokeWidth": 5.5, "strokeJoin": "round"},
         "encoding": {"y": {"field": "v", "type": "quantitative", "scale": {"domain": [-0.418, 5.285], "nice": false, "zero": false}, "axis": {"title": "NRMSE", "values": [0, 1, 2, 3, 4, 5], "format": "d", "titleY": 347.5}},
           "x": {"field": "w", "type": "quantitative", "stack": "center", "scale": {"domain": [-0.1725, 0.8275], "nice": false, "zero": false}, "axis": {"title": "Direct-LSTM(val)"}}, "detail": {"field": "c", "type": "nominal"}}},
        {"transform": [{"filter": "isValid(datum.med)"}], "mark": {"type": "rule", "color": "#333333", "strokeWidth": 5}, "encoding": {"x": {"datum": 0.3275, "type": "quantitative"}, "y": {"field": "lo", "type": "quantitative"}, "y2": {"field": "hi"}}},
        {"transform": [{"filter": "isValid(datum.med)"}], "mark": {"type": "rule", "color": "#333333", "strokeWidth": 20, "strokeCap": "round"}, "encoding": {"x": {"datum": 0.3275, "type": "quantitative"}, "y": {"field": "q1", "type": "quantitative"}, "y2": {"field": "q3"}}},
        {"transform": [{"filter": "isValid(datum.med)"}], "mark": {"type": "point", "filled": true, "color": "white", "opacity": 1, "size": 95, "strokeWidth": 0}, "encoding": {"x": {"datum": 0.3275, "type": "quantitative"}, "y": {"field": "med", "type": "quantitative"}}},
        {"transform": [{"filter": "isValid(datum.med)"}], "mark": {"type": "rule", "color": "#262626", "strokeWidth": 4.5}, "encoding": {"y": {"datum": 5.285, "type": "quantitative"}}}
      ]},
      {"width": 466.83, "height": 695, "transform": [{"filter": "datum.c == 'MIR-LSTM(val)'"}], "layer": [
        {"transform": [{"filter": "isValid(datum.w)"}], "mark": {"type": "area", "orient": "horizontal", "interpolate": "monotone", "fill": "#df7d20", "stroke": "#333333", "strokeWidth": 5.5, "strokeJoin": "round"},
         "encoding": {"y": {"field": "v", "type": "quantitative", "scale": {"domain": [-0.418, 5.285], "nice": false, "zero": false}, "axis": null},
           "x": {"field": "w", "type": "quantitative", "stack": "center", "scale": {"domain": [-0.1, 0.9], "nice": false, "zero": false}, "axis": {"title": "MIR-LSTM(val)"}}, "detail": {"field": "c", "type": "nominal"}}},
        {"transform": [{"filter": "isValid(datum.med)"}], "mark": {"type": "rule", "color": "#333333", "strokeWidth": 5}, "encoding": {"x": {"datum": 0.4, "type": "quantitative"}, "y": {"field": "lo", "type": "quantitative", "axis": null}, "y2": {"field": "hi"}}},
        {"transform": [{"filter": "isValid(datum.med)"}], "mark": {"type": "rule", "color": "#333333", "strokeWidth": 20, "strokeCap": "round"}, "encoding": {"x": {"datum": 0.4, "type": "quantitative"}, "y": {"field": "q1", "type": "quantitative", "axis": null}, "y2": {"field": "q3"}}},
        {"transform": [{"filter": "isValid(datum.med)"}], "mark": {"type": "point", "filled": true, "color": "white", "opacity": 1, "size": 95, "strokeWidth": 0}, "encoding": {"x": {"datum": 0.4, "type": "quantitative"}, "y": {"field": "med", "type": "quantitative", "axis": null}}},
        {"transform": [{"filter": "isValid(datum.med)"}], "mark": {"type": "rule", "color": "#262626", "strokeWidth": 4.5}, "encoding": {"y": {"datum": 5.285, "type": "quantitative", "axis": null}}}
      ]},
      {"width": 466.83, "height": 695, "transform": [{"filter": "datum.c == 'RFECV-LSTM(val)'"}], "layer": [
        {"transform": [{"filter": "isValid(datum.w)"}], "mark": {"type": "area", "orient": "horizontal", "interpolate": "monotone", "fill": "#30b346", "stroke": "#333333", "strokeWidth": 5.5, "strokeJoin": "round"},
         "encoding": {"y": {"field": "v", "type": "quantitative", "scale": {"domain": [-0.418, 5.285], "nice": false, "zero": false}, "axis": null},
           "x": {"field": "w", "type": "quantitative", "stack": "center", "scale": {"domain": [-0.1725, 0.8275], "nice": false, "zero": false}, "axis": {"title": "RFECV-LSTM(val)"}}, "detail": {"field": "c", "type": "nominal"}}},
        {"transform": [{"filter": "isValid(datum.med)"}], "mark": {"type": "rule", "color": "#333333", "strokeWidth": 5}, "encoding": {"x": {"datum": 0.3275, "type": "quantitative"}, "y": {"field": "lo", "type": "quantitative", "axis": null}, "y2": {"field": "hi"}}},
        {"transform": [{"filter": "isValid(datum.med)"}], "mark": {"type": "rule", "color": "#333333", "strokeWidth": 20, "strokeCap": "round"}, "encoding": {"x": {"datum": 0.3275, "type": "quantitative"}, "y": {"field": "q1", "type": "quantitative", "axis": null}, "y2": {"field": "q3"}}},
        {"transform": [{"filter": "isValid(datum.med)"}], "mark": {"type": "point", "filled": true, "color": "white", "opacity": 1, "size": 95, "strokeWidth": 0}, "encoding": {"x": {"datum": 0.3275, "type": "quantitative"}, "y": {"field": "med", "type": "quantitative", "axis": null}}},
        {"transform": [{"filter": "isValid(datum.med)"}], "mark": {"type": "rule", "color": "#262626", "strokeWidth": 4.5}, "encoding": {"y": {"datum": 5.285, "type": "quantitative", "axis": null}}}
      ]},
      {"width": 466.83, "height": 695, "transform": [{"filter": "datum.c == 'Direct-LSTM(test)'"}], "layer": [
        {"transform": [{"filter": "isValid(datum.w)"}], "mark": {"type": "area", "orient": "horizontal", "interpolate": "monotone", "fill": "#cb1d25", "stroke": "#333333", "strokeWidth": 5.5, "strokeJoin": "round"},
         "encoding": {"y": {"field": "v", "type": "quantitative", "scale": {"domain": [-0.418, 5.285], "nice": false, "zero": false}, "axis": null},
           "x": {"field": "w", "type": "quantitative", "stack": "center", "scale": {"domain": [-0.252, 0.748], "nice": false, "zero": false}, "axis": {"title": "Direct-LSTM(test)"}}, "detail": {"field": "c", "type": "nominal"}}},
        {"transform": [{"filter": "isValid(datum.med)"}], "mark": {"type": "rule", "color": "#333333", "strokeWidth": 5}, "encoding": {"x": {"datum": 0.248, "type": "quantitative"}, "y": {"field": "lo", "type": "quantitative", "axis": null}, "y2": {"field": "hi"}}},
        {"transform": [{"filter": "isValid(datum.med)"}], "mark": {"type": "rule", "color": "#333333", "strokeWidth": 20, "strokeCap": "round"}, "encoding": {"x": {"datum": 0.248, "type": "quantitative"}, "y": {"field": "q1", "type": "quantitative", "axis": null}, "y2": {"field": "q3"}}},
        {"transform": [{"filter": "isValid(datum.med)"}], "mark": {"type": "point", "filled": true, "color": "white", "opacity": 1, "size": 95, "strokeWidth": 0}, "encoding": {"x": {"datum": 0.248, "type": "quantitative"}, "y": {"field": "med", "type": "quantitative", "axis": null}}},
        {"transform": [{"filter": "isValid(datum.med)"}], "mark": {"type": "rule", "color": "#262626", "strokeWidth": 4.5}, "encoding": {"y": {"datum": 5.285, "type": "quantitative", "axis": null}}}
      ]},
      {"width": 466.83, "height": 695, "transform": [{"filter": "datum.c == 'MIR-LSTM(test)'"}], "layer": [
        {"transform": [{"filter": "isValid(datum.w)"}], "mark": {"type": "area", "orient": "horizontal", "interpolate": "monotone", "fill": "#8a42cb", "stroke": "#333333", "strokeWidth": 5.5, "strokeJoin": "round"},
         "encoding": {"y": {"field": "v", "type": "quantitative", "scale": {"domain": [-0.418, 5.285], "nice": false, "zero": false}, "axis": null},
           "x": {"field": "w", "type": "quantitative", "stack": "center", "scale": {"domain": [-0.217, 0.783], "nice": false, "zero": false}, "axis": {"title": "MIR-LSTM(test)"}}, "detail": {"field": "c", "type": "nominal"}}},
        {"transform": [{"filter": "isValid(datum.med)"}], "mark": {"type": "rule", "color": "#333333", "strokeWidth": 5}, "encoding": {"x": {"datum": 0.283, "type": "quantitative"}, "y": {"field": "lo", "type": "quantitative", "axis": null}, "y2": {"field": "hi"}}},
        {"transform": [{"filter": "isValid(datum.med)"}], "mark": {"type": "rule", "color": "#333333", "strokeWidth": 20, "strokeCap": "round"}, "encoding": {"x": {"datum": 0.283, "type": "quantitative"}, "y": {"field": "q1", "type": "quantitative", "axis": null}, "y2": {"field": "q3"}}},
        {"transform": [{"filter": "isValid(datum.med)"}], "mark": {"type": "point", "filled": true, "color": "white", "opacity": 1, "size": 95, "strokeWidth": 0}, "encoding": {"x": {"datum": 0.283, "type": "quantitative"}, "y": {"field": "med", "type": "quantitative", "axis": null}}},
        {"transform": [{"filter": "isValid(datum.med)"}], "mark": {"type": "rule", "color": "#262626", "strokeWidth": 4.5}, "encoding": {"y": {"datum": 5.285, "type": "quantitative", "axis": null}}}
      ]},
      {"width": 466.83, "height": 695, "transform": [{"filter": "datum.c == 'RFECV-LSTM(test)'"}], "layer": [
        {"transform": [{"filter": "isValid(datum.w)"}], "mark": {"type": "area", "orient": "horizontal", "interpolate": "monotone", "fill": "#8b4a14", "stroke": "#333333", "strokeWidth": 5.5, "strokeJoin": "round"},
         "encoding": {"y": {"field": "v", "type": "quantitative", "scale": {"domain": [-0.418, 5.285], "nice": false, "zero": false}, "axis": null},
           "x": {"field": "w", "type": "quantitative", "stack": "center", "scale": {"domain": [-0.25, 0.75], "nice": false, "zero": false}, "axis": {"title": "RFECV-LSTM(test)"}}, "detail": {"field": "c", "type": "nominal"}}},
        {"transform": [{"filter": "isValid(datum.med)"}], "mark": {"type": "rule", "color": "#333333", "strokeWidth": 5}, "encoding": {"x": {"datum": 0.25, "type": "quantitative"}, "y": {"field": "lo", "type": "quantitative", "axis": null}, "y2": {"field": "hi"}}},
        {"transform": [{"filter": "isValid(datum.med)"}], "mark": {"type": "rule", "color": "#333333", "strokeWidth": 20, "strokeCap": "round"}, "encoding": {"x": {"datum": 0.25, "type": "quantitative"}, "y": {"field": "q1", "type": "quantitative", "axis": null}, "y2": {"field": "q3"}}},
        {"transform": [{"filter": "isValid(datum.med)"}], "mark": {"type": "point", "filled": true, "color": "white", "opacity": 1, "size": 95, "strokeWidth": 0}, "encoding": {"x": {"datum": 0.25, "type": "quantitative"}, "y": {"field": "med", "type": "quantitative", "axis": null}}},
        {"transform": [{"filter": "isValid(datum.med)"}], "mark": {"type": "rule", "color": "#262626", "strokeWidth": 4.5}, "encoding": {"y": {"datum": 5.285, "type": "quantitative", "axis": null}}},
        {"transform": [{"filter": "isValid(datum.med)"}], "mark": {"type": "rule", "color": "#262626", "strokeWidth": 4.5}, "encoding": {"x": {"datum": 0.75, "type": "quantitative"}}},
        {"transform": [{"filter": "isValid(datum.med)"}], "mark": {"type": "text", "text": "(b)", "font": "Liberation Serif", "fontWeight": "bold", "fontSize": 53, "color": "#262626", "align": "right", "baseline": "alphabetic"}, "encoding": {"x": {"datum": 0.681, "type": "quantitative"}, "y": {"datum": -0.057, "type": "quantitative", "axis": null}}}
      ]}
    ]},
    {"data": {"name": "c"}, "spacing": 0, "bounds": "flush", "hconcat": [
      {"width": 466.83, "height": 696, "transform": [{"filter": "datum.c == 'Direct-LSTM(val)'"}], "layer": [
        {"transform": [{"filter": "isValid(datum.w)"}], "mark": {"type": "area", "orient": "horizontal", "interpolate": "monotone", "fill": "#224edf", "stroke": "#333333", "strokeWidth": 5.5, "strokeJoin": "round"},
         "encoding": {"y": {"field": "v", "type": "quantitative", "scale": {"domain": [-20.5, 148.3], "nice": false, "zero": false}, "axis": {"title": "PPTS(5) (%)", "values": [0, 50, 100], "titleY": 348}},
           "x": {"field": "w", "type": "quantitative", "stack": "center", "scale": {"domain": [-0.215, 0.785], "nice": false, "zero": false}, "axis": {"title": "Direct-LSTM(val)"}}, "detail": {"field": "c", "type": "nominal"}}},
        {"transform": [{"filter": "isValid(datum.med)"}], "mark": {"type": "rule", "color": "#333333", "strokeWidth": 5}, "encoding": {"x": {"datum": 0.285, "type": "quantitative"}, "y": {"field": "lo", "type": "quantitative"}, "y2": {"field": "hi"}}},
        {"transform": [{"filter": "isValid(datum.med)"}], "mark": {"type": "rule", "color": "#333333", "strokeWidth": 20, "strokeCap": "round"}, "encoding": {"x": {"datum": 0.285, "type": "quantitative"}, "y": {"field": "q1", "type": "quantitative"}, "y2": {"field": "q3"}}},
        {"transform": [{"filter": "isValid(datum.med)"}], "mark": {"type": "point", "filled": true, "color": "white", "opacity": 1, "size": 95, "strokeWidth": 0}, "encoding": {"x": {"datum": 0.285, "type": "quantitative"}, "y": {"field": "med", "type": "quantitative"}}},
        {"transform": [{"filter": "isValid(datum.med)"}], "mark": {"type": "rule", "color": "#262626", "strokeWidth": 4.5}, "encoding": {"y": {"datum": 148.3, "type": "quantitative"}}}
      ]},
      {"width": 466.83, "height": 696, "transform": [{"filter": "datum.c == 'MIR-LSTM(val)'"}], "layer": [
        {"transform": [{"filter": "isValid(datum.w)"}], "mark": {"type": "area", "orient": "horizontal", "interpolate": "monotone", "fill": "#df7d20", "stroke": "#333333", "strokeWidth": 5.5, "strokeJoin": "round"},
         "encoding": {"y": {"field": "v", "type": "quantitative", "scale": {"domain": [-20.5, 148.3], "nice": false, "zero": false}, "axis": null},
           "x": {"field": "w", "type": "quantitative", "stack": "center", "scale": {"domain": [-0.185, 0.815], "nice": false, "zero": false}, "axis": {"title": "MIR-LSTM(val)"}}, "detail": {"field": "c", "type": "nominal"}}},
        {"transform": [{"filter": "isValid(datum.med)"}], "mark": {"type": "rule", "color": "#333333", "strokeWidth": 5}, "encoding": {"x": {"datum": 0.315, "type": "quantitative"}, "y": {"field": "lo", "type": "quantitative", "axis": null}, "y2": {"field": "hi"}}},
        {"transform": [{"filter": "isValid(datum.med)"}], "mark": {"type": "rule", "color": "#333333", "strokeWidth": 20, "strokeCap": "round"}, "encoding": {"x": {"datum": 0.315, "type": "quantitative"}, "y": {"field": "q1", "type": "quantitative", "axis": null}, "y2": {"field": "q3"}}},
        {"transform": [{"filter": "isValid(datum.med)"}], "mark": {"type": "point", "filled": true, "color": "white", "opacity": 1, "size": 95, "strokeWidth": 0}, "encoding": {"x": {"datum": 0.315, "type": "quantitative"}, "y": {"field": "med", "type": "quantitative", "axis": null}}},
        {"transform": [{"filter": "isValid(datum.med)"}], "mark": {"type": "rule", "color": "#262626", "strokeWidth": 4.5}, "encoding": {"y": {"datum": 148.3, "type": "quantitative", "axis": null}}}
      ]},
      {"width": 466.83, "height": 696, "transform": [{"filter": "datum.c == 'RFECV-LSTM(val)'"}], "layer": [
        {"transform": [{"filter": "isValid(datum.w)"}], "mark": {"type": "area", "orient": "horizontal", "interpolate": "monotone", "fill": "#30b346", "stroke": "#333333", "strokeWidth": 5.5, "strokeJoin": "round"},
         "encoding": {"y": {"field": "v", "type": "quantitative", "scale": {"domain": [-20.5, 148.3], "nice": false, "zero": false}, "axis": null},
           "x": {"field": "w", "type": "quantitative", "stack": "center", "scale": {"domain": [-0.215, 0.785], "nice": false, "zero": false}, "axis": {"title": "RFECV-LSTM(val)"}}, "detail": {"field": "c", "type": "nominal"}}},
        {"transform": [{"filter": "isValid(datum.med)"}], "mark": {"type": "rule", "color": "#333333", "strokeWidth": 5}, "encoding": {"x": {"datum": 0.285, "type": "quantitative"}, "y": {"field": "lo", "type": "quantitative", "axis": null}, "y2": {"field": "hi"}}},
        {"transform": [{"filter": "isValid(datum.med)"}], "mark": {"type": "rule", "color": "#333333", "strokeWidth": 20, "strokeCap": "round"}, "encoding": {"x": {"datum": 0.285, "type": "quantitative"}, "y": {"field": "q1", "type": "quantitative", "axis": null}, "y2": {"field": "q3"}}},
        {"transform": [{"filter": "isValid(datum.med)"}], "mark": {"type": "point", "filled": true, "color": "white", "opacity": 1, "size": 95, "strokeWidth": 0}, "encoding": {"x": {"datum": 0.285, "type": "quantitative"}, "y": {"field": "med", "type": "quantitative", "axis": null}}},
        {"transform": [{"filter": "isValid(datum.med)"}], "mark": {"type": "rule", "color": "#262626", "strokeWidth": 4.5}, "encoding": {"y": {"datum": 148.3, "type": "quantitative", "axis": null}}}
      ]},
      {"width": 466.83, "height": 696, "transform": [{"filter": "datum.c == 'Direct-LSTM(test)'"}], "layer": [
        {"transform": [{"filter": "isValid(datum.w)"}], "mark": {"type": "area", "orient": "horizontal", "interpolate": "monotone", "fill": "#cb1d25", "stroke": "#333333", "strokeWidth": 5.5, "strokeJoin": "round"},
         "encoding": {"y": {"field": "v", "type": "quantitative", "scale": {"domain": [-20.5, 148.3], "nice": false, "zero": false}, "axis": null},
           "x": {"field": "w", "type": "quantitative", "stack": "center", "scale": {"domain": [-0.205, 0.795], "nice": false, "zero": false}, "axis": {"title": "Direct-LSTM(test)"}}, "detail": {"field": "c", "type": "nominal"}}},
        {"transform": [{"filter": "isValid(datum.med)"}], "mark": {"type": "rule", "color": "#333333", "strokeWidth": 5}, "encoding": {"x": {"datum": 0.295, "type": "quantitative"}, "y": {"field": "lo", "type": "quantitative", "axis": null}, "y2": {"field": "hi"}}},
        {"transform": [{"filter": "isValid(datum.med)"}], "mark": {"type": "rule", "color": "#333333", "strokeWidth": 20, "strokeCap": "round"}, "encoding": {"x": {"datum": 0.295, "type": "quantitative"}, "y": {"field": "q1", "type": "quantitative", "axis": null}, "y2": {"field": "q3"}}},
        {"transform": [{"filter": "isValid(datum.med)"}], "mark": {"type": "point", "filled": true, "color": "white", "opacity": 1, "size": 95, "strokeWidth": 0}, "encoding": {"x": {"datum": 0.295, "type": "quantitative"}, "y": {"field": "med", "type": "quantitative", "axis": null}}},
        {"transform": [{"filter": "isValid(datum.med)"}], "mark": {"type": "rule", "color": "#262626", "strokeWidth": 4.5}, "encoding": {"y": {"datum": 148.3, "type": "quantitative", "axis": null}}}
      ]},
      {"width": 466.83, "height": 696, "transform": [{"filter": "datum.c == 'MIR-LSTM(test)'"}], "layer": [
        {"transform": [{"filter": "isValid(datum.w)"}], "mark": {"type": "area", "orient": "horizontal", "interpolate": "monotone", "fill": "#8a42cb", "stroke": "#333333", "strokeWidth": 5.5, "strokeJoin": "round"},
         "encoding": {"y": {"field": "v", "type": "quantitative", "scale": {"domain": [-20.5, 148.3], "nice": false, "zero": false}, "axis": null},
           "x": {"field": "w", "type": "quantitative", "stack": "center", "scale": {"domain": [-0.1, 0.9], "nice": false, "zero": false}, "axis": {"title": "MIR-LSTM(test)"}}, "detail": {"field": "c", "type": "nominal"}}},
        {"transform": [{"filter": "isValid(datum.med)"}], "mark": {"type": "rule", "color": "#333333", "strokeWidth": 5}, "encoding": {"x": {"datum": 0.4, "type": "quantitative"}, "y": {"field": "lo", "type": "quantitative", "axis": null}, "y2": {"field": "hi"}}},
        {"transform": [{"filter": "isValid(datum.med)"}], "mark": {"type": "rule", "color": "#333333", "strokeWidth": 20, "strokeCap": "round"}, "encoding": {"x": {"datum": 0.4, "type": "quantitative"}, "y": {"field": "q1", "type": "quantitative", "axis": null}, "y2": {"field": "q3"}}},
        {"transform": [{"filter": "isValid(datum.med)"}], "mark": {"type": "point", "filled": true, "color": "white", "opacity": 1, "size": 95, "strokeWidth": 0}, "encoding": {"x": {"datum": 0.4, "type": "quantitative"}, "y": {"field": "med", "type": "quantitative", "axis": null}}},
        {"transform": [{"filter": "isValid(datum.med)"}], "mark": {"type": "rule", "color": "#262626", "strokeWidth": 4.5}, "encoding": {"y": {"datum": 148.3, "type": "quantitative", "axis": null}}}
      ]},
      {"width": 466.83, "height": 696, "transform": [{"filter": "datum.c == 'RFECV-LSTM(test)'"}], "layer": [
        {"transform": [{"filter": "isValid(datum.w)"}], "mark": {"type": "area", "orient": "horizontal", "interpolate": "monotone", "fill": "#8b4a14", "stroke": "#333333", "strokeWidth": 5.5, "strokeJoin": "round"},
         "encoding": {"y": {"field": "v", "type": "quantitative", "scale": {"domain": [-20.5, 148.3], "nice": false, "zero": false}, "axis": null},
           "x": {"field": "w", "type": "quantitative", "stack": "center", "scale": {"domain": [-0.1775, 0.8225], "nice": false, "zero": false}, "axis": {"title": "RFECV-LSTM(test)"}}, "detail": {"field": "c", "type": "nominal"}}},
        {"transform": [{"filter": "isValid(datum.med)"}], "mark": {"type": "rule", "color": "#333333", "strokeWidth": 5}, "encoding": {"x": {"datum": 0.3225, "type": "quantitative"}, "y": {"field": "lo", "type": "quantitative", "axis": null}, "y2": {"field": "hi"}}},
        {"transform": [{"filter": "isValid(datum.med)"}], "mark": {"type": "rule", "color": "#333333", "strokeWidth": 20, "strokeCap": "round"}, "encoding": {"x": {"datum": 0.3225, "type": "quantitative"}, "y": {"field": "q1", "type": "quantitative", "axis": null}, "y2": {"field": "q3"}}},
        {"transform": [{"filter": "isValid(datum.med)"}], "mark": {"type": "point", "filled": true, "color": "white", "opacity": 1, "size": 95, "strokeWidth": 0}, "encoding": {"x": {"datum": 0.3225, "type": "quantitative"}, "y": {"field": "med", "type": "quantitative", "axis": null}}},
        {"transform": [{"filter": "isValid(datum.med)"}], "mark": {"type": "rule", "color": "#262626", "strokeWidth": 4.5}, "encoding": {"y": {"datum": 148.3, "type": "quantitative", "axis": null}}},
        {"transform": [{"filter": "isValid(datum.med)"}], "mark": {"type": "rule", "color": "#262626", "strokeWidth": 4.5}, "encoding": {"x": {"datum": 0.8225, "type": "quantitative"}}},
        {"transform": [{"filter": "isValid(datum.med)"}], "mark": {"type": "text", "text": "(c)", "font": "Liberation Serif", "fontWeight": "bold", "fontSize": 53, "color": "#262626", "align": "right", "baseline": "alphabetic"}, "encoding": {"x": {"datum": 0.7539, "type": "quantitative"}, "y": {"datum": -9.3, "type": "quantitative", "axis": null}}}
      ]}
    ]}
  ]
}
